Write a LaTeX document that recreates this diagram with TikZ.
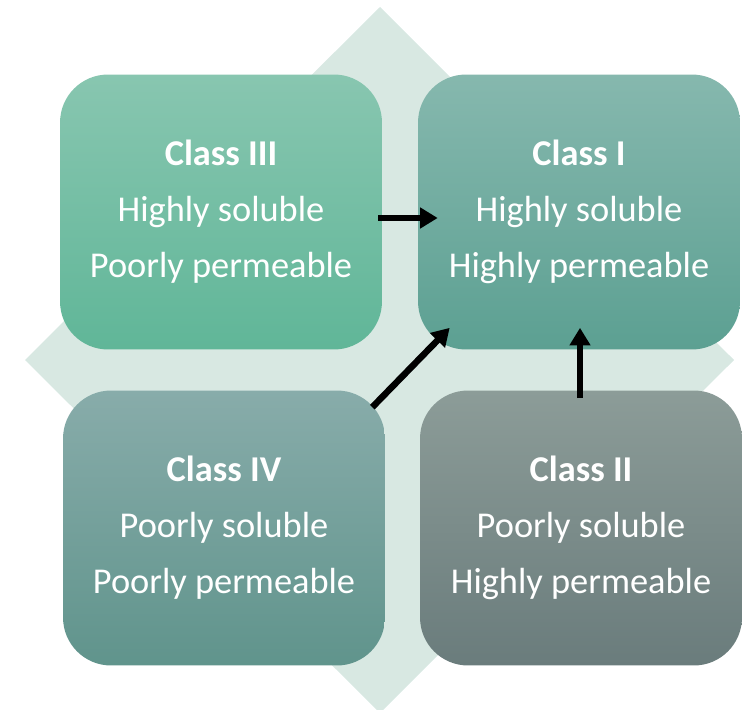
\documentclass[tikz,border=0pt]{standalone}
\usepackage{fontspec}
\setmainfont{Carlito}
\usetikzlibrary{arrows.meta}

\definecolor{diamondbg}{RGB}{216,232,226}
\definecolor{threetop}{RGB}{136,198,176}
\definecolor{threebot}{RGB}{96,182,152}
\definecolor{onetop}{RGB}{134,184,174}
\definecolor{onebot}{RGB}{92,160,146}
\definecolor{fourtop}{RGB}{136,172,170}
\definecolor{fourbot}{RGB}{96,148,140}
\definecolor{twotop}{RGB}{140,156,152}
\definecolor{twobot}{RGB}{106,124,124}

\begin{document}
\begin{tikzpicture}[x=0.02cm, y=-0.02cm,
  every node/.style={font=\fontsize{20.7}{31.9}\selectfont, text=white},
  classbox/.style={rounded corners=0.96cm, minimum width=6.44cm, minimum height=5.5cm,
    align=center, inner sep=0pt},
  flow/.style={line width=3.7pt, -{Triangle[width=11.4pt,length=10pt]}}]
  \useasboundingbox (0,0) rectangle (749,709);

  % Background diamond
  \fill[diamondbg] (380,7) -- (734,360) -- (380,713) -- (25,360) -- cycle;

  % Class boxes
  \node[classbox, top color=threetop, bottom color=threebot] (III) at (221,212)
    {\textbf{Class III}\\Highly soluble\\Poorly permeable};
  \node[classbox, top color=onetop, bottom color=onebot] (I) at (579,212)
    {\textbf{Class I}\\Highly soluble\\Highly permeable};
  \node[classbox, top color=fourtop, bottom color=fourbot] (IV) at (224,528)
    {\textbf{Class IV}\\Poorly soluble\\Poorly permeable};
  \node[classbox, top color=twotop, bottom color=twobot] (II) at (581,528)
    {\textbf{Class II}\\Poorly soluble\\Highly permeable};

  % Arrows towards Class I
  \draw[flow] ([shift={(-4,6)}]III.east) -- ([shift={(20,6)}]I.west);
  \draw[flow] ([shift={(-13,17)}]IV.north east) -- ([shift={(32,-22)}]I.south west);
  \draw[flow] ([shift={(-1,8)}]II.north) -- ([shift={(1,-22)}]I.south);
\end{tikzpicture}
\end{document}
